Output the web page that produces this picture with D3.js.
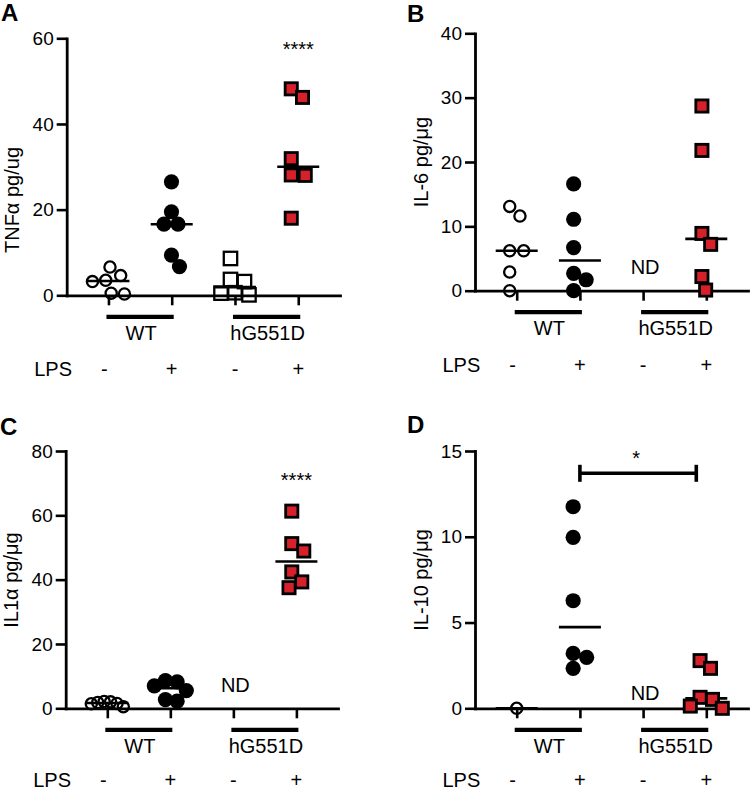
<!DOCTYPE html>
<html><head><meta charset="utf-8">
<script src="https://cdn.jsdelivr.net/npm/d3@7"></script>
<style>
body{margin:0;background:#fff}
text{font-family:"Liberation Sans",Arial,Helvetica,sans-serif;fill:#000}
</style>
</head><body>
<svg id="chart" width="750" height="792"></svg>
<script>
// ---------- DATA ----------
const columns = ["WT-", "WT+", "hG551D-", "hG551D+"];
const genotypes = ["WT", "hG551D"];
const lpsLabels = ["-", "+", "-", "+"];

// Panel A: TNFα (pg/ug)
const tnfWtNeg  = [6.6, 4.6, 3.5, 3.2, 0.5, 0.3];
const tnfWtPos  = [26.5, 19.5, 16.6, 16.6, 9.4, 6.7];
const tnfMutNeg = [8.6, 3.7, 3.2, 0.6, 0.5, 0.1];
const tnfMutPos = [48.2, 46.2, 31.9, 28.1, 28.0, 18.0];
const tnfTicks  = [0, 20, 40, 60];

// Panel B: IL-6 (pg/µg)
const il6WtNeg  = [13.1, 11.6, 6.2, 6.2, 2.9, 0.0];
const il6WtPos  = [16.6, 11.1, 6.7, 2.7, 1.7, 0.0];
const il6MutNeg = null; // ND
const il6MutPos = [28.7, 21.8, 8.9, 7.2, 2.2, 0.1];
const il6Ticks  = [0, 10, 20, 30, 40];

// Panel C: IL1α (pg/µg)
const il1WtNeg  = [2.1, 2.0, 1.8, 1.5, 1.4, 0.5];
const il1WtPos  = [8.6, 8.2, 7.0, 5.5, 2.7, 2.2];
const il1MutNeg = null; // ND
const il1MutPos = [61.3, 51.2, 48.9, 42.4, 39.3, 37.5];
const il1Ticks  = [0, 20, 40, 60, 80];

// Panel D: IL-10 (pg/µg)
const il10WtNeg  = [0.0];
const il10WtPos  = [11.75, 9.97, 6.27, 3.2, 2.97, 2.33];
const il10MutNeg = null; // ND
const il10MutPos = [2.78, 2.33, 0.64, 0.52, 0.13, 0.0];
const il10Ticks  = [0, 5, 10, 15];
const il10Bracket = {from: "WT+", to: "hG551D+", value: 13.7, label: "*"};

const panels = [
  {letter: "A", title: "TNFα pg/ug", ticks: tnfTicks, series: [tnfWtNeg, tnfWtPos, tnfMutNeg, tnfMutPos], stars: "****"},
  {letter: "B", title: "IL-6 pg/μg", ticks: il6Ticks, series: [il6WtNeg, il6WtPos, il6MutNeg, il6MutPos]},
  {letter: "C", title: "IL1α pg/μg", ticks: il1Ticks, series: [il1WtNeg, il1WtPos, il1MutNeg, il1MutPos], stars: "****"},
  {letter: "D", title: "IL-10 pg/μg", ticks: il10Ticks, series: [il10WtNeg, il10WtPos, il10MutNeg, il10MutPos], bracket: il10Bracket}
];

// ---------- LAYOUT ----------
const layout = [
  {ox: 66.7, right: 340, bottom: 295.3, top: 38.3, letterX: 1, letterY: 20.5, titleY: 200, ndLift: 17, starY: 56, lpsDrop: 81},
  {ox: 475,  right: 748, bottom: 290.7, top: 33.3, letterX: 407, letterY: 21.5, titleY: 162, ndLift: 17, lpsDrop: 81},
  {ox: 65.7, right: 338, bottom: 708.3, top: 451,  letterX: 0, letterY: 435, titleY: 580, ndLift: 16.5, starY: 487, lpsDrop: 78.5},
  {ox: 475,  right: 748, bottom: 708.3, top: 451,  letterX: 407, letterY: 433, titleY: 580, ndLift: 8.5, starY: 465, lpsDrop: 78.5}
];
const RED = "#d7212a";
const FS = 20;

const svg = d3.select("#chart");

function swarm(vals, y, D, maxHalf) {
  const placed = [];
  vals.forEach(v => {
    const py = y(v);
    let dx = 0;
    for (let k = 0; k < 2000; k++) {
      const cand = k === 0 ? 0 : (k % 2 === 1 ? 1 : -1) * Math.ceil(k / 2) * 0.25;
      const ok = placed.every(p => (cand - p.dx) ** 2 + (py - p.py) ** 2 >= D * D - 1e-6);
      if (ok) { dx = cand; break; }
    }
    placed.push({dx, py, v});
  });
  const mn = d3.min(placed, p => p.dx), mx = d3.max(placed, p => p.dx);
  const c = (mn + mx) / 2;
  placed.forEach(p => p.dx -= c);
  const ext = d3.max(placed, p => Math.abs(p.dx));
  const s = ext > maxHalf ? maxHalf / ext : 1;
  placed.forEach(p => p.dx *= s);
  return placed;
}

panels.forEach((P, i) => {
  const L = layout[i];
  const g = svg.append("g");
  const y = d3.scaleLinear().domain([0, d3.max(P.ticks)]).range([L.bottom, L.top]);
  const x = d3.scalePoint().domain(columns).range([L.ox, L.right]).padding(0.66);

  // axes
  const ya = g.append("g").attr("transform", `translate(${L.ox},0)`)
    .call(d3.axisLeft(y).tickValues(P.ticks).tickSize(10).tickSizeOuter(0).tickPadding(3));
  const xa = g.append("g").attr("transform", `translate(0,${L.bottom})`)
    .call(d3.axisBottom(x).tickSize(10).tickSizeOuter(0).tickFormat(""));
  [ya, xa].forEach(a => {
    a.selectAll("path.domain").attr("stroke", "#000").attr("stroke-width", 2.8).attr("stroke-linecap", "square");
    a.selectAll(".tick line").attr("stroke", "#000").attr("stroke-width", 2.6);
  });
  ya.selectAll(".tick text").style("font-size", "19px").attr("fill", "#000")
    .style("font-family", '"Liberation Sans",Arial,sans-serif');

  // y title
  g.append("text")
    .attr("transform", `translate(${L.ox - 47.5},${L.titleY}) rotate(-90)`)
    .attr("text-anchor", "middle").style("font-size", FS + "px").text(P.title);

  // panel letter
  g.append("text").attr("x", L.letterX).attr("y", L.letterY)
    .style("font-size", "24px").style("font-weight", "bold").text(P.letter);

  // genotype bars and labels
  genotypes.forEach((gn, k) => {
    const a = x(columns[2 * k]), b = x(columns[2 * k + 1]);
    g.append("line").attr("x1", a - 2).attr("x2", b + 2)
      .attr("y1", L.bottom + 21.5).attr("y2", L.bottom + 21.5)
      .attr("stroke", "#000").attr("stroke-width", 4.2);
    g.append("text").attr("x", (a + b) / 2 + 1).attr("y", L.bottom + 44.5)
      .attr("text-anchor", "middle").style("font-size", FS + "px").text(gn);
  });
  // LPS row
  g.append("text").attr("x", L.ox - 32.5).attr("y", L.bottom + L.lpsDrop)
    .style("font-size", FS + "px").text("LPS");
  columns.forEach((c, k) => {
    g.append("text").attr("x", x(c) + (k === 0 ? -4 : 0)).attr("y", L.bottom + L.lpsDrop)
      .attr("text-anchor", "middle").style("font-size", FS + "px").text(lpsLabels[k]);
  });

  // data
  P.series.forEach((vals, k) => {
    const cx = x(columns[k]);
    if (!vals) {
      g.append("text").attr("x", cx + 2).attr("y", L.bottom - L.ndLift)
        .attr("text-anchor", "middle").style("font-size", FS + "px").attr("fill", "#222").text("ND");
      return;
    }
    const med = d3.median(vals);
    g.append("line").attr("x1", cx - 21).attr("x2", cx + 21)
      .attr("y1", y(med)).attr("y2", y(med)).attr("stroke", "#000").attr("stroke-width", 2.6);
    const pts = swarm(vals, y, 14, 16);
    const m = g.append("g");
    pts.forEach(p => {
      const px = cx + p.dx, py = p.py;
      if (k === 0) {
        m.append("circle").attr("cx", px).attr("cy", py).attr("r", 5.6)
          .attr("fill", "none").attr("stroke", "#000").attr("stroke-width", 2.3);
      } else if (k === 1) {
        m.append("circle").attr("cx", px).attr("cy", py).attr("r", 7.6).attr("fill", "#000");
      } else if (k === 2) {
        const s = 13.4;
        m.append("rect").attr("x", px - s / 2).attr("y", py - s / 2).attr("width", s).attr("height", s)
          .attr("fill", "none").attr("stroke", "#000").attr("stroke-width", 2.3);
      } else {
        const s = 12.2;
        m.append("rect").attr("x", px - s / 2).attr("y", py - s / 2).attr("width", s).attr("height", s)
          .attr("fill", RED).attr("stroke", "#000").attr("stroke-width", 2.8);
      }
    });
  });

  if (P.stars) {
    g.append("text").attr("x", x(columns[3])).attr("y", L.starY)
      .attr("text-anchor", "middle").style("font-size", FS + "px").text(P.stars);
  }
  if (P.bracket) {
    const B = P.bracket;
    const x1 = x(B.from), x2 = x(B.to) - 10, by = y(B.value);
    const br = g.append("g").attr("stroke", "#000").attr("stroke-width", 3.6);
    br.append("line").attr("x1", x1).attr("x2", x2).attr("y1", by).attr("y2", by);
    br.append("line").attr("x1", x1).attr("x2", x1).attr("y1", by - 8.5).attr("y2", by + 8.5);
    br.append("line").attr("x1", x2).attr("x2", x2).attr("y1", by - 8.5).attr("y2", by + 8.5);
    g.append("text").attr("x", (x1 + x2) / 2 - 2).attr("y", L.starY)
      .attr("text-anchor", "middle").style("font-size", FS + "px").text(B.label);
  }
});
</script>
</body></html>
